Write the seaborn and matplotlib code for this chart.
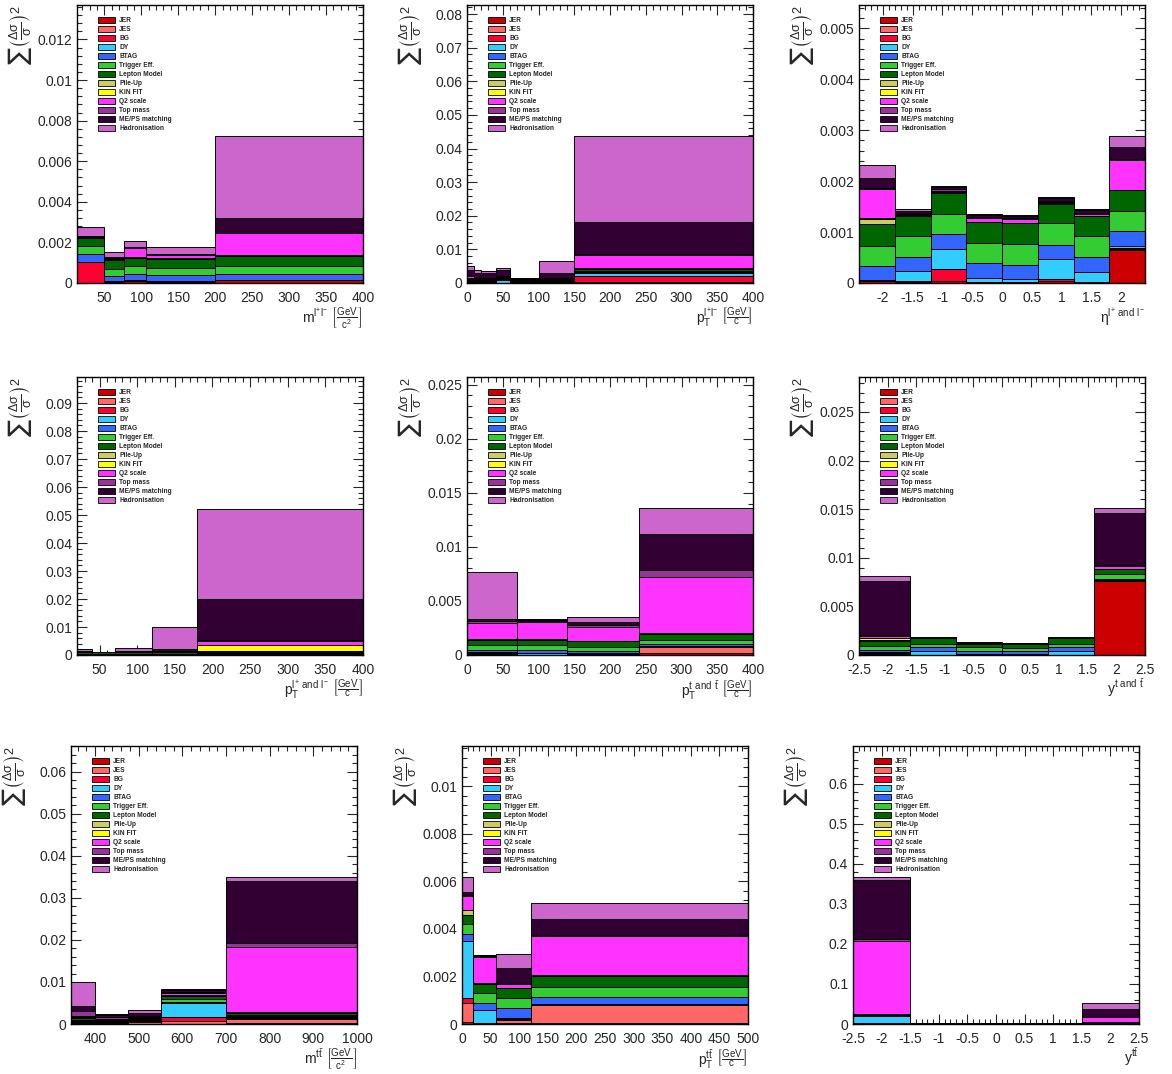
import matplotlib
matplotlib.use("Agg")
import matplotlib.pyplot as plt
import numpy as np
import pandas as pd
import seaborn as sns
from matplotlib.patches import Patch
from matplotlib.ticker import MultipleLocator, AutoMinorLocator, FuncFormatter

sources = ["JER", "JES", "BG", "DY", "BTAG", "Trigger Eff.", "Lepton Model",
           "Pile-Up", "KIN FIT", "Q2 scale", "Top mass", "ME/PS matching", "Hadronisation"]
colors = ["#cc0000", "#ff6666", "#ff0033", "#33ccff", "#3366ff", "#33cc33", "#006600",
          "#cccc66", "#ffff00", "#ff33ff", "#993399", "#330033", "#cc66cc"]

# one row per source (JER ... Hadronisation), one column per bin
mll_edges = [13, 50, 76, 106, 200, 400]
mll_vals = [
    [0.00002, 0.00003, 0.00012, 0.00005, 0.00013],
    [0, 0, 0, 0, 0],
    [0.00102, 0, 0, 0, 0],
    [0, 0.00005, 0.00003, 0.00003, 0.00003],
    [0.0004, 0.00025, 0.00028, 0.0003, 0.0003],
    [0.0004, 0.00038, 0.00039, 0.00036, 0.00038],
    [0.00038, 0.00044, 0.00043, 0.00046, 0.00048],
    [0.00002, 0.00002, 0.00002, 0.00002, 0.00004],
    [0, 0, 0, 0, 0.00004],
    [0.00002, 0.00003, 0.00047, 0.00018, 0.00104],
    [0.00002, 0.00002, 0.00002, 0.00002, 0.00002],
    [0.00004, 0.00005, 0.00003, 0.00003, 0.00072],
    [0.00045, 0.00026, 0.00027, 0.00033, 0.00408],
]

ptll_edges = [0, 10, 20, 40, 60, 100, 150, 400]
ptll_vals = [
    [0.0001, 0.0001, 0.0001, 0.0001, 0.0001, 0.0001, 0.0002],
    [0.0001, 0, 0, 0, 0, 0, 0.0001],
    [0, 0, 0, 0, 0, 0, 0.0019],
    [0.0002, 0.0001, 0.0001, 0.0008, 0.0003, 0.0002, 0.0008],
    [0.0001, 0.0001, 0.0001, 0.0002, 0.0002, 0.0002, 0.0003],
    [0.0003, 0.0002, 0.0002, 0.0002, 0.0002, 0.0002, 0.0004],
    [0.0004, 0.0003, 0.0003, 0.0003, 0.0003, 0.0003, 0.0006],
    [0.0001, 0.0001, 0.0001, 0.0001, 0.0001, 0.0001, 0.0001],
    [0.0001, 0, 0, 0, 0, 0, 0.0001],
    [0.0006, 0.0003, 0.0003, 0.0002, 0.0001, 0.0002, 0.0037],
    [0.0003, 0.0002, 0.0002, 0.0002, 0.0001, 0.0002, 0.0004],
    [0.0015, 0.0016, 0.0016, 0.0017, 0.0001, 0.0015, 0.0096],
    [0.0012, 0.0008, 0.0005, 0.0008, 0.0001, 0.0034, 0.0256],
]

etal_edges = [-2.4, -1.8, -1.2, -0.6, 0, 0.6, 1.2, 1.8, 2.4]
etal_vals = [
    [0.00003, 0.00002, 0.00003, 0.00002, 0.00002, 0.00003, 0.00002, 0.00064],
    [0.00001, 0, 0, 0, 0, 0, 0, 0.00002],
    [0.00001, 0.00001, 0.00025, 0, 0, 0.00004, 0, 0.00002],
    [0.00001, 0.0002, 0.00039, 0.00008, 0.00006, 0.00041, 0.0002, 0.00005],
    [0.00027, 0.00028, 0.0003, 0.00029, 0.00028, 0.00027, 0.00029, 0.00029],
    [0.0004, 0.00041, 0.00039, 0.0004, 0.0004, 0.00042, 0.00041, 0.0004],
    [0.00042, 0.0004, 0.00041, 0.0004, 0.00041, 0.00039, 0.00039, 0.0004],
    [0.0001, 0.00001, 0.00001, 0.00001, 0.00001, 0.00001, 0.00001, 0.00001],
    [0.00002, 0, 0, 0, 0, 0, 0, 0],
    [0.00057, 0.00002, 0.00003, 0.00008, 0.00008, 0.00003, 0.00003, 0.00058],
    [0.00003, 0.00002, 0.00003, 0.00002, 0.00002, 0.00002, 0.00003, 0.00003],
    [0.0002, 0.00004, 0.00005, 0.00004, 0.00004, 0.00004, 0.00005, 0.00023],
    [0.00024, 0.00004, 0.00002, 0.00002, 0.00002, 0.00003, 0.00002, 0.00021],
]

ptl_edges = [20, 40, 70, 120, 180, 400]
ptl_vals = [
    [0.0001, 0.0001, 0.0001, 0.0001, 0.0002],
    [0, 0, 0, 0, 0.0001],
    [0, 0, 0, 0, 0.0001],
    [0.0001, 0.0001, 0.0001, 0.0001, 0.0002],
    [0.0001, 0.0001, 0.0001, 0.0001, 0.0002],
    [0.0002, 0.0002, 0.0002, 0.0002, 0.0003],
    [0.0004, 0.0004, 0.0004, 0.0004, 0.0004],
    [0.0001, 0.0001, 0.0001, 0.0001, 0.0001],
    [0.0001, 0.0001, 0.0001, 0.0002, 0.002],
    [0.0001, 0, 0.0001, 0.0002, 0.0015],
    [0.0001, 0, 0.0001, 0.0001, 0.0002],
    [0, 0.0001, 0, 0.0006, 0.0148],
    [0.0009, 0, 0.0012, 0.0078, 0.0322],
]

ptt_edges = [0, 70, 140, 240, 400]
ptt_vals = [
    [0.0001, 0.00003, 0.00005, 0.00015],
    [0.0001, 0, 0, 0.0006],
    [0.00003, 0, 0, 0.00003],
    [0.00005, 0.0002, 0.0001, 0.00007],
    [0.0002, 0.00023, 0.00025, 0.00015],
    [0.00045, 0.00044, 0.00037, 0.0004],
    [0.0005, 0.0005, 0.0005, 0.00055],
    [0.00002, 0.00002, 0.00002, 0.00003],
    [0.00002, 0.00002, 0.00001, 0.00002],
    [0.0015, 0.0016, 0.0013, 0.0052],
    [0.00015, 0.00006, 0.0002, 0.0007],
    [0.0002, 0.00015, 0.00025, 0.0033],
    [0.00438, 0.0001, 0.0005, 0.0024],
]

yt_edges = [-2.5, -1.6, -0.8, 0, 0.8, 1.6, 2.5]
yt_vals = [
    [0.0001, 0.00003, 0.00003, 0.00003, 0.00003, 0.0076],
    [0.00005, 0, 0, 0, 0, 0.00005],
    [0.00005, 0, 0, 0, 0, 0.00005],
    [0.0001, 0.0004, 0.0001, 0.0001, 0.0004, 0.00005],
    [0.0002, 0.00035, 0.0003, 0.00027, 0.00035, 0.00005],
    [0.0004, 0.0004, 0.00035, 0.00035, 0.0004, 0.0005],
    [0.0005, 0.00055, 0.0004, 0.0004, 0.00055, 0.0005],
    [0.0001, 0.00002, 0.00002, 0.00002, 0.00002, 0.00002],
    [0.0003, 0, 0, 0, 0, 0.00003],
    [0.0002, 0.00002, 0.00002, 0.00002, 0.00002, 0.00035],
    [0.0001, 0.00002, 0.00002, 0.00002, 0.00002, 0.00005],
    [0.0055, 0.00004, 0.00004, 0.00003, 0.00004, 0.0054],
    [0.0005, 0.00002, 0.00002, 0.00001, 0.00002, 0.0005],
]

mtt_edges = [345, 400, 475, 550, 700, 1000]
mtt_vals = [
    [0.0002, 0.0001, 0.0001, 0.0001, 0.0002],
    [0.0002, 0.0001, 0.0004, 0.0006, 0.0011],
    [0.0001, 0.0001, 0.0001, 0.0009, 0.0001],
    [0.0001, 0.0001, 0.0001, 0.0035, 0.0002],
    [0.0001, 0.0001, 0.0001, 0.0002, 0.0002],
    [0.0003, 0.0002, 0.0002, 0.0006, 0.0004],
    [0.0004, 0.0003, 0.0003, 0.0008, 0.0005],
    [0.0001, 0.0001, 0.0001, 0.0001, 0.0001],
    [0.0001, 0, 0, 0, 0],
    [0.0004, 0.0002, 0.0002, 0.0005, 0.0156],
    [0.001, 0.0003, 0.0003, 0.0002, 0.0008],
    [0.0013, 0.0006, 0.0007, 0.0005, 0.0149],
    [0.0056, 0.0002, 0.0007, 0.0003, 0.0009],
]

pttt_edges = [0, 20, 60, 120, 500]
pttt_vals = [
    [0.0001, 0.00002, 0.00005, 0.00003],
    [0.00077, 0.00001, 0.00012, 0.00077],
    [0.00021, 0.00001, 0.00005, 0.00002],
    [0.00242, 0.00056, 0.00005, 0.00003],
    [0.0003, 0.0003, 0.00039, 0.0003],
    [0.0004, 0.0004, 0.00042, 0.00042],
    [0.0004, 0.0004, 0.00042, 0.00045],
    [0.00018, 0.00002, 0.00002, 0.00005],
    [0.00002, 0.00001, 0.00001, 0.00001],
    [0.0006, 0.00107, 0.00017, 0.00162],
    [0.00004, 0.00004, 0.00003, 0.00003],
    [0.00012, 0.00006, 0.00062, 0.00067],
    [0.00064, 0.00002, 0.0006, 0.0007],
]

ytt_edges = [-2.5, -1.5, -0.5, 0.5, 1.5, 2.5]
ytt_vals = [
    [0.001, 0.0002, 0.0002, 0.0002, 0.0005],
    [0.001, 0.0002, 0.0002, 0.0002, 0.0005],
    [0.001, 0.0001, 0.0001, 0.0001, 0.0003],
    [0.017, 0.0005, 0.0005, 0.0005, 0.001],
    [0.001, 0.0002, 0.0002, 0.0002, 0.0003],
    [0.001, 0.0004, 0.0004, 0.0004, 0.0005],
    [0.001, 0.0004, 0.0004, 0.0004, 0.0005],
    [0.0005, 0.0001, 0.0001, 0.0001, 0.0002],
    [0.0005, 0.0001, 0.0001, 0.0001, 0.0002],
    [0.184, 0.0004, 0.0004, 0.0004, 0.013],
    [0.003, 0.0001, 0.0001, 0.0001, 0.001],
    [0.149, 0.0004, 0.0004, 0.0004, 0.019],
    [0.008, 0.0002, 0.0002, 0.0002, 0.016],
]

gev_c = r"\ \left[\frac{GeV}{c}\right]"
gev_c2 = r"\ \left[\frac{GeV}{c^{2}}\right]"
ylab = r"$\sum\left(\frac{\Delta\sigma}{\sigma}\right)^{2}$"

# (edges, values, x label, y max, y major step, x major step, axes rect in px: left, top)
panels = [
    (mll_edges, mll_vals, r"$m^{l^{+}l^{-}}" + gev_c2 + "$", 0.0137, 0.002, 50, (77, 5)),
    (ptll_edges, ptll_vals, r"$p_{T}^{l^{+}l^{-}}" + gev_c + "$", 0.0827, 0.01, 50, (467, 5)),
    (etal_edges, etal_vals, r"$\eta^{l^{+}\ and\ l^{-}}$", 0.00546, 0.001, 0.5, (859, 5)),
    (ptl_edges, ptl_vals, r"$p_{T}^{l^{+}\ and\ l^{-}}" + gev_c + "$", 0.0993, 0.01, 50, (77, 377)),
    (ptt_edges, ptt_vals, r"$p_{T}^{t\ and\ \bar{t}}" + gev_c + "$", 0.0257, 0.005, 50, (467, 377)),
    (yt_edges, yt_vals, r"$y^{t\ and\ \bar{t}}$", 0.0286, 0.005, 0.5, (859, 377)),
    (mtt_edges, mtt_vals, r"$m^{t\bar{t}}" + gev_c2 + "$", 0.0661, 0.01, 100, (71, 746)),
    (pttt_edges, pttt_vals, r"$p_{T}^{t\bar{t}}" + gev_c + "$", 0.01169, 0.002, 50, (462, 746)),
    (ytt_edges, ytt_vals, r"$y^{t\bar{t}}$", 0.694, 0.1, 0.5, (853, 746)),
]

W, H = 1172, 1074
sns.set_style("ticks", {"xtick.direction": "in", "ytick.direction": "in",
                        "xtick.top": True, "ytick.right": True,
                        "axes.edgecolor": "black"})
plt.rcParams["font.family"] = ["Liberation Sans", "DejaVu Sans"]
plt.rcParams["mathtext.fontset"] = "dejavusans"
plt.rcParams["mathtext.default"] = "regular"

fig = plt.figure(figsize=(W / 100, H / 100), dpi=100)
palette = dict(zip(sources, colors))
fmt = FuncFormatter(lambda v, _: f"{round(v, 6):g}")

for edges, vals, xlabel, ymax, ystep, xstep, (left, top) in panels:
    ax = fig.add_axes([left / W, 1 - (top + 278) / H, 286 / W, 278 / H])
    centers = (np.array(edges[:-1]) + np.array(edges[1:])) / 2
    rows = []
    for src, v in zip(sources, vals):
        for c, w in zip(centers, v):
            rows.append({"x": c, "w": w, "source": src})
    df = pd.DataFrame(rows)
    # seaborn puts the first hue level on top of the stack
    sns.histplot(data=df, x="x", weights="w", hue="source", hue_order=sources[::-1],
                 palette=palette, bins=edges, multiple="stack", element="bars",
                 alpha=1, edgecolor="black", linewidth=0.7, legend=False, ax=ax)
    ax.set_xlim(edges[0], edges[-1])
    ax.set_ylim(0, ymax)
    ax.xaxis.set_major_locator(MultipleLocator(xstep))
    ax.xaxis.set_minor_locator(AutoMinorLocator(5))
    ax.yaxis.set_major_locator(MultipleLocator(ystep))
    ax.yaxis.set_minor_locator(AutoMinorLocator(5))
    ax.xaxis.set_major_formatter(fmt)
    ax.yaxis.set_major_formatter(fmt)
    ax.tick_params(which="both", direction="in", top=True, right=True, labelsize=10)
    ax.tick_params(axis="x", pad=5.5)
    ax.tick_params(which="major", length=7, width=0.8)
    ax.tick_params(which="minor", length=3.5, width=0.8)
    for s in ax.spines.values():
        s.set_linewidth(1.0)
    ax.set_xlabel(xlabel, loc="right", fontsize=10)
    ax.xaxis.set_label_coords(1.0, -0.082)
    ax.set_ylabel(ylab, loc="top", fontsize=13)
    ax.yaxis.set_label_coords(-0.15, 1.0)

    handles = [Patch(facecolor=c, edgecolor="black", linewidth=0.6, label=s)
               for s, c in zip(sources, colors)]
    ax.legend(handles=handles, loc="upper left", bbox_to_anchor=(0.075, 0.958),
              frameon=False, prop={"size": 4.8, "weight": "bold"}, handlelength=2.55,
              handleheight=0.98, labelspacing=0.27, handletextpad=0.55,
              borderpad=0, borderaxespad=0)

fig.savefig("out.png", dpi=100)
